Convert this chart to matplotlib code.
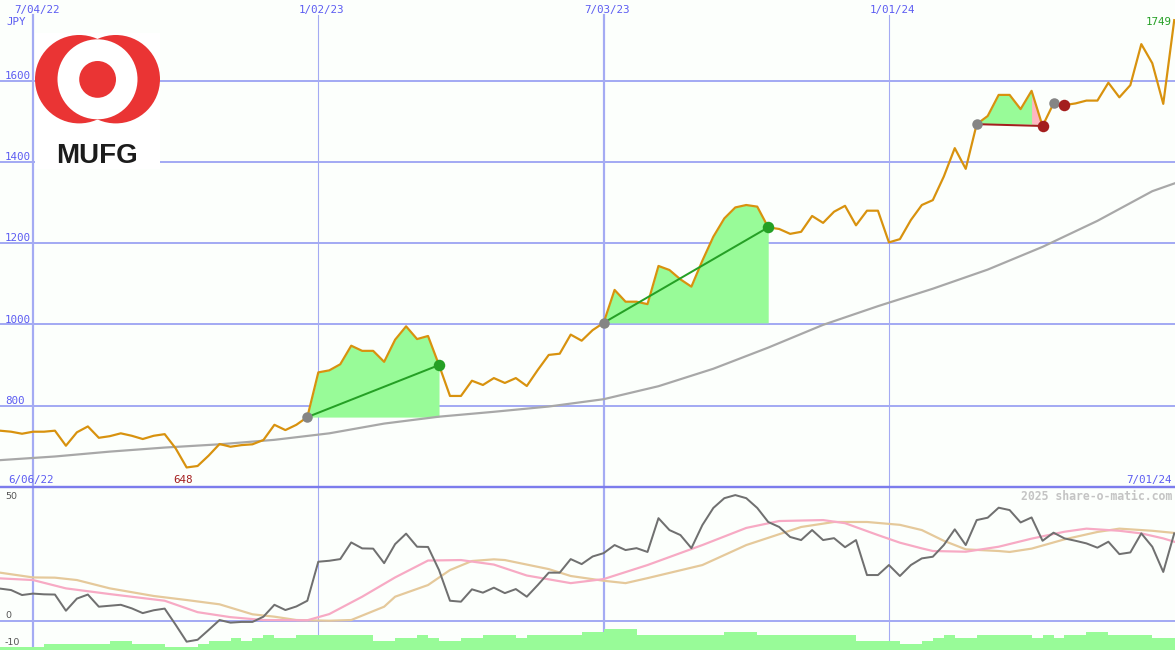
import matplotlib
matplotlib.use('Agg')
import matplotlib.pyplot as plt
from matplotlib.patches import Circle, Rectangle
from matplotlib.lines import Line2D
import matplotlib.transforms as mtransforms

# ---------------- data ----------------
weeks = list(range(1, 109))  # week index counted from 6/06/22
price = [738.5, 736, 731, 736, 736, 738.5, 701.5, 734.5, 749, 721,
         725, 732, 726, 718, 726, 730, 695, 648, 651.6, 677,
         705.7, 699, 703, 705, 715.6, 753, 740, 753, 772, 882,
         887, 902, 947.7, 935, 935, 908, 962.5, 995.4, 964, 971.6,
         900, 824, 824, 861.5, 851, 868, 856, 868, 848.5, 888,
         925, 928, 975, 960, 986, 1004, 1085, 1056, 1056, 1050,
         1144, 1134, 1111, 1093, 1157, 1216, 1261, 1288, 1294, 1290,
         1239, 1235, 1223, 1228, 1267, 1250, 1277.5, 1292, 1244, 1280,
         1280, 1202, 1210, 1257, 1294, 1306, 1364, 1434, 1383, 1493,
         1513, 1565, 1565, 1530, 1575, 1488.5, 1544, 1540, 1544, 1551,
         1551, 1595, 1559, 1589, 1690, 1643, 1543, 1749]

ma_weeks = [1, 6, 11, 16, 21, 26, 31, 36, 41, 46, 51, 56, 61, 66, 71, 76,
            81, 86, 91, 96, 101, 106, 108]
ma_vals = [666, 675, 687, 697, 705, 716, 732, 756, 773, 785, 798, 816, 848,
           891, 943, 999, 1045, 1088, 1135, 1191, 1255, 1328, 1347]

osc = [13.5, 12.9, 10.8, 11.4, 11.1, 11.0, 4.2, 9.3, 11.0, 5.9,
       6.3, 6.7, 5.2, 3.2, 4.4, 5.1, -1.7, -8.8, -8.0, -3.9,
       0.3, -0.8, -0.5, -0.5, 1.7, 6.7, 4.5, 6.0, 8.4, 24.8,
       25.2, 25.9, 32.9, 30.4, 30.3, 24.2, 32.2, 36.6, 31.1, 31.0,
       21.3, 8.4, 8.0, 13.2, 11.8, 13.9, 11.6, 13.3, 10.1, 15.0,
       20.2, 20.2, 25.9, 23.8, 27.0, 28.4, 31.8, 29.7, 30.5, 28.9,
       43.1, 38.1, 36.0, 30.5, 40.2, 47.4, 51.5, 52.8, 51.5, 47.4,
       41.5, 39.4, 35.2, 33.9, 38.1, 33.9, 34.7, 30.9, 33.9, 19.2,
       19.2, 23.4, 18.8, 23.4, 26.2, 26.9, 31.8, 38.4, 31.8, 42.3,
       43.3, 47.5, 46.5, 41.3, 43.4, 33.6, 37.0, 34.6, 33.6, 32.5,
       30.7, 33.2, 28.0, 28.7, 36.7, 31.1, 20.5, 36.7]

pink_weeks = [1, 4, 7, 11, 16, 19, 22, 25, 29, 31, 34, 37, 40, 43, 46, 49,
              53, 56, 60, 65, 69, 72, 76, 78, 81, 83, 85, 86, 89, 92, 95,
              98, 100, 103, 105, 107, 108]
pink_vals = [17.8, 17.1, 13.6, 11.2, 8.4, 3.6, 1.5, 0.3, 0.2, 2.8, 10.1,
             18.2, 25.3, 25.5, 23.6, 19.0, 15.8, 17.5, 23.4, 31.8, 39.0,
             41.9, 42.3, 41.0, 36.0, 32.8, 30.4, 29.3, 29.0, 31.1, 34.5,
             37.4, 38.7, 37.8, 36.7, 34.6, 33.2]

tan_weeks = [1, 4, 6, 8, 11, 15, 18, 21, 24, 26, 28, 31, 33, 36, 37, 40,
             42, 44, 46, 47, 51, 53, 56, 58, 60, 65, 69, 74, 77, 80, 83,
             85, 87, 89, 92, 93, 95, 98, 101, 103, 106, 108]
tan_vals = [20.2, 18.2, 18.1, 17.1, 13.6, 10.4, 8.7, 6.9, 2.7, 1.7, 0.3,
            0.0, 0.3, 5.9, 10.1, 15.0, 21.3, 25.1, 25.8, 25.5, 21.7, 18.8,
            16.8, 15.8, 17.9, 23.4, 31.8, 39.4, 41.5, 41.5, 40.3, 38.1,
            33.6, 30.0, 29.3, 28.9, 30.3, 34.2, 37.3, 38.7, 37.8, 36.9]

vol_level = [1, 1, 1, 1, 2, 2, 2, 2, 2, 2,
             3, 3, 2, 2, 2, 1, 1, 1, 2, 3,
             3, 4, 3, 4, 5, 4, 4, 5, 5, 5,
             5, 5, 5, 5, 3, 3, 4, 4, 5, 4,
             3, 3, 4, 4, 5, 5, 5, 4, 5, 5,
             5, 5, 5, 6, 6, 7, 7, 7, 5, 5,
             5, 5, 5, 5, 5, 5, 6, 6, 6, 5,
             5, 5, 5, 5, 5, 5, 5, 5, 3, 3,
             3, 3, 2, 2, 3, 4, 5, 4, 4, 5,
             5, 5, 5, 5, 4, 5, 4, 5, 5, 6,
             6, 5, 5, 5, 5, 4, 4, 4]

entry_weeks = [29, 56, 90, 97]
exit_weeks = [41, 71, 96, 98]

grid_weeks = [4, 30, 56, 82]
grid_labels = ['7/04/22', '1/02/23', '7/03/23', '1/01/24']
price_ticks = [800, 1000, 1200, 1400, 1600]
osc_ticks = [50, 0, -10]
start_label = '6/06/22'
end_label = '7/01/24'
unit_label = 'JPY'
brand = 'MUFG'
watermark = '2025 share-o-matic.com'

# ---------------- style ----------------
W, H, DPI = 1175, 650, 100
BG = '#fcfffc'
GRID = '#a4abf3'
SEP = '#7c7cec'
BLUE_TXT = '#5c5cf2'
ORANGE = '#d8920e'
MA_GRAY = '#a8a8a8'
FILL_GREEN = '#98fb98'
LINE_GREEN = '#25a025'
RED = '#a41e1e'
PINK = '#ffb6c1'
DOT_GRAY = '#858585'
OSC_GRAY = '#707070'
OSC_PINK = '#f7aac4'
OSC_TAN = '#e5c99b'
LOGO_RED = '#ea3434'
MONO = 'DejaVu Sans Mono'

px = 72.0 / DPI  # points per pixel

fig = plt.figure(figsize=(W / DPI, H / DPI), dpi=DPI, facecolor=BG)

top_frac = 487.0 / H
xlim = (0.993, 108.07)

# main price panel
ax = fig.add_axes([0, 1 - top_frac, 1, top_frac])
ax.set_axis_off()
ax.set_xlim(*xlim)
ax.set_ylim(599.9, 1798.6)

for p in price_ticks:
    ax.axhline(p, color=GRID, lw=2 * px, zorder=1)
vw = [2.2, 1.1, 2.2, 1.1]
vtop = (487.0 - 15.0) / 487.0
for w, lw in zip(grid_weeks, vw):
    ax.axvline(w, ymin=0, ymax=vtop, color=GRID, lw=lw * px, zorder=1)

ax.plot(ma_weeks, ma_vals, color=MA_GRAY, lw=2.2 * px, zorder=2.5)

for e, x in zip(entry_weeks, exit_weeks):
    pe, px_ = price[e - 1], price[x - 1]
    win = px_ > pe
    ax.fill_between(weeks[e - 1:x], price[e - 1:x], pe, color=FILL_GREEN,
                    lw=0, zorder=2)
    if not win:
        ax.fill_between(weeks[x - 2:x], price[x - 2:x], pe, color=PINK,
                        lw=0, zorder=2.1)

ax.plot(weeks, price, color=ORANGE, lw=2.2 * px, zorder=3,
        solid_joinstyle='round')

for e, x in zip(entry_weeks, exit_weeks):
    pe, px_ = price[e - 1], price[x - 1]
    col = LINE_GREEN if px_ > pe else RED
    ax.plot([e, x], [pe, px_], color=col, lw=2 * px, zorder=4)
    ax.plot([e], [pe], 'o', ms=10.5 * px, color=DOT_GRAY, mec='none', zorder=5)
    ax.plot([x], [px_], 'o', ms=11.5 * px, color=col, mec='none', zorder=5)

# y labels
ytrans = mtransforms.blended_transform_factory(ax.transAxes, ax.transData)
for p in price_ticks:
    ax.annotate(str(p), xy=(5.0 / W, p), xycoords=ytrans, xytext=(0, 1.7),
                textcoords='offset pixels', ha='left', va='baseline',
                color=BLUE_TXT, fontsize=7.8, family=MONO, zorder=6)

# date labels at top
for w, lab in zip(grid_weeks, grid_labels):
    ax.annotate(lab, xy=(w, 1.0), xycoords=('data', 'axes fraction'),
                xytext=(3.5, -13.3), textcoords='offset pixels', ha='center',
                va='baseline', color=BLUE_TXT, fontsize=7.8, family=MONO)

# min / max labels
imin = price.index(min(price))
imax = price.index(max(price))
ax.annotate(f'{min(price):.0f}', xy=(weeks[imin], price[imin]),
            xytext=(-3.5, -15.6), textcoords='offset pixels', ha='center',
            va='baseline', color=RED, fontsize=7.8, family=MONO)
ax.annotate(f'{max(price):.0f}', xy=(weeks[imax], price[imax]),
            xytext=(-3, -4.8), textcoords='offset pixels', ha='right',
            va='baseline', color=LINE_GREEN, fontsize=7.8, family=MONO)

# ---------------- bottom panel ----------------
bot_frac = 163.0 / H
ax2 = fig.add_axes([0, 0, 1, bot_frac])
ax2.set_axis_off()
ax2.set_xlim(*xlim)
ax2.set_ylim(-12.3, 56.2)
ax2.axhline(0, color=GRID, lw=2 * px, zorder=1)
for w, lw in zip(grid_weeks, vw):
    ax2.axvline(w, color=GRID, lw=lw * px, zorder=1)
ax2.plot(tan_weeks, tan_vals, color=OSC_TAN, lw=2.2 * px, zorder=2)
ax2.plot(pink_weeks, pink_vals, color=OSC_PINK, lw=2.2 * px, zorder=2.2)
ax2.plot(weeks, osc, color=OSC_GRAY, lw=2.0 * px, zorder=3)

ytrans2 = mtransforms.blended_transform_factory(ax2.transAxes, ax2.transData)
offs = {50: 2.4, 0: 2.4, -10: -0.8}
for v in osc_ticks:
    ax2.annotate(str(v), xy=(5.0 / W, v), xycoords=ytrans2,
                 xytext=(0, offs[v]), textcoords='offset pixels',
                 ha='left', va='baseline', color='#555555', fontsize=6.8)

# green bars
ax3 = fig.add_axes([0, 0, 1, bot_frac])
ax3.set_axis_off()
ax3.set_xlim(*xlim)
ax3.set_ylim(0, 163.0 / 3.0)
ax3.fill_between(weeks + [weeks[-1] + 1], vol_level + [vol_level[-1]],
                 0, step='post', color=FILL_GREEN, lw=0)

# separator
fig.add_artist(Line2D([0, 1], [bot_frac, bot_frac], color=SEP, lw=2.4 * px))


def ftext(x, y, s, **kw):
    fig.text(x / W, 1 - y / H, s, **kw)


ftext(6, 25, unit_label, ha='left', va='baseline', color=BLUE_TXT,
      fontsize=7.8, family=MONO)
ftext(8, 483.3, start_label, ha='left', va='baseline', color=BLUE_TXT,
      fontsize=7.8, family=MONO)
ftext(1172, 483.3, end_label, ha='right', va='baseline', color=BLUE_TXT,
      fontsize=7.8, family=MONO)
ftext(1172, 500, watermark, ha='right', va='baseline', color='#c4c4c4',
      fontsize=8.3, family=MONO, fontweight='bold')

# ---------------- logo ----------------
axl = fig.add_axes([0, 0, 1, 1])
axl.set_axis_off()
axl.set_xlim(0, W)
axl.set_ylim(H, 0)
axl.add_patch(Rectangle((35, 33), 125, 136, color='white', lw=0))
axl.add_patch(Circle((79.2, 79.2), 44.2, color=LOGO_RED, lw=0))
axl.add_patch(Circle((115.8, 79.2), 44.2, color=LOGO_RED, lw=0))
axl.add_patch(Circle((97.5, 79.3), 40.0, color='white', lw=0))
axl.add_patch(Circle((97.6, 79.4), 18.4, color=LOGO_RED, lw=0))
axl.text(97.5, 163, brand, ha='center', va='baseline', color='#1c1c1c',
         fontsize=20, fontweight='bold', family='Liberation Sans')

fig.savefig('out.png', dpi=DPI, facecolor=BG)
